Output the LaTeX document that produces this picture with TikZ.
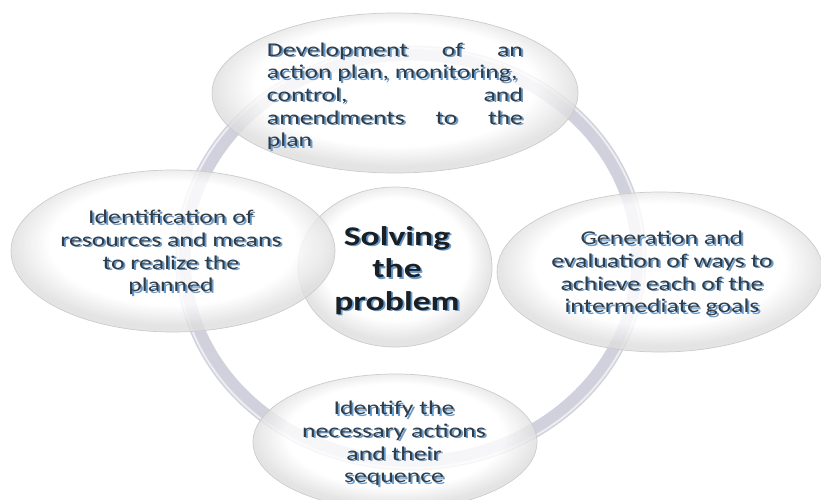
\documentclass[tikz,border=0pt]{standalone}
\usepackage{fontspec}
\setmainfont{Carlito}
\usetikzlibrary{positioning}

\definecolor{ringgray}{HTML}{D0D1DD}
\definecolor{shblue}{HTML}{5E9EDB}
\definecolor{txtgray}{HTML}{3A3A3A}

\pgfdeclareradialshading{bubbleshade}{\pgfpoint{0bp}{4bp}}{color(0bp)=(white); color(19bp)=(white); color(25bp)=(black!13); color(50bp)=(black!13)}

% light blue drop copy of a text block, inside the same node
\newcommand{\withshadow}[1]{\leavevmode\rlap{\hspace{1.4pt}\raisebox{-1.4pt}{\color{shblue}#1}}#1}

\begin{document}
\begin{tikzpicture}[x=1pt,y=-1pt,
  bubble/.style={shading=bubbleshade,draw=black!20,line width=0.7pt,fill opacity=0.82},
  ring/.style={draw=ringgray,line width=15pt},
  txt/.style={text=txtgray,font=\fontsize{19.5}{22.7}\selectfont,xscale=1.32,inner sep=0pt},
  big/.style={font=\bfseries\fontsize{27}{32.5}\selectfont,text=black!88}]
\useasboundingbox (0,0) rectangle (821,499);
\clip (0,0) rectangle (821,499);

% ring behind the bubbles
\draw[ring] (411,258) ellipse [x radius=228,y radius=205];
\draw[white,opacity=0.6,line width=2pt] (411,258) ellipse [x radius=233,y radius=210];

% bubbles
\shade[bubble] (395,267) ellipse [x radius=97,y radius=80];
\shade[bubble] (173,251) ellipse [x radius=162,y radius=81];
\shade[bubble] (395,93) ellipse [x radius=183,y radius=80];
\shade[bubble] (660,272) ellipse [x radius=163,y radius=80];
\shade[bubble] (395,442) ellipse [x radius=142,y radius=68];

% texts
\node[txt] (top) at (395,97) {\withshadow{\parbox[c]{194pt}{\raggedright
  Development\hfill of\hfill an\\action plan, monitoring,\\control,\hfill and\\amendments\hfill to\hfill the\\plan}}};
\node[txt] (left) at (171,254) {\withshadow{\begin{tabular}{@{}c@{}}Identification of\\resources and means\\to realize the\\planned\end{tabular}}};
\node[txt,big] (center) at (397,272) {\withshadow{\begin{tabular}{@{}c@{}}Solving\\the\\problem\end{tabular}}};
\node[txt] (right) at (662,275) {\withshadow{\begin{tabular}{@{}c@{}}Generation and\\evaluation of ways to\\achieve each of the\\intermediate goals\end{tabular}}};
\node[txt] (bottom) at (394,445) {\withshadow{\begin{tabular}{@{}c@{}}Identify the\\necessary actions\\and their\\sequence\end{tabular}}};
\end{tikzpicture}
\end{document}
